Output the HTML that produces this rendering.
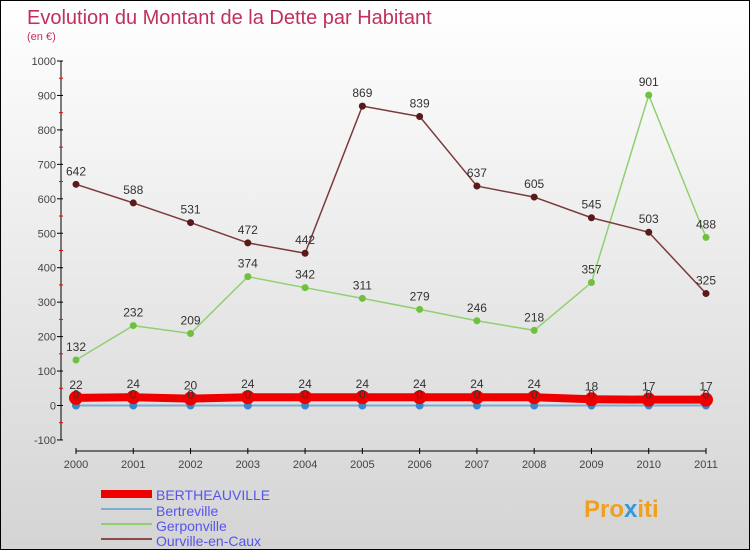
<!DOCTYPE html>
<html><head><meta charset="utf-8"><style>
body{margin:0}
#c{width:748px;height:548px;border:1px solid #000;background:linear-gradient(#fff,#d4d4d4);position:relative;font-family:"Liberation Sans",sans-serif;overflow:hidden}
</style></head><body>
<div id="c">
<svg id="s" width="748" height="548" style="position:absolute;left:0;top:0">
<text x="26" y="23" font-size="20" fill="#c0305a">Evolution du Montant de la Dette par Habitant</text>
<text x="26" y="39" font-size="11" fill="#c0305a">(en €)</text>
<g id="axes"></g><g id="series"></g>
<g>
<rect x="100" y="489" width="51" height="8" fill="#e00"/>
<text x="155" y="499" font-size="14" fill="#5555ee">BERTHEAUVILLE</text>
<line x1="100" x2="151" y1="508" y2="508" stroke="#7aaed0" stroke-width="2"/>
<text x="155" y="515" font-size="14" fill="#5555ee">Bertreville</text>
<line x1="100" x2="151" y1="523" y2="523" stroke="#90d070" stroke-width="2"/>
<text x="155" y="530" font-size="14" fill="#5555ee">Gerponville</text>
<line x1="100" x2="151" y1="538" y2="538" stroke="#8b4a4a" stroke-width="2"/>
<text x="155" y="545" font-size="14" fill="#5555ee">Ourville-en-Caux</text>
</g>
<text x="583" y="516" font-size="24" font-weight="bold" fill="#f0a020">Pro<tspan fill="#3399dd">x</tspan>iti</text>
</svg>
</div>
<script>
const years=["2000","2001","2002","2003","2004","2005","2006","2007","2008","2009","2010","2011"];
const yTicks=[-100,0,100,200,300,400,500,600,700,800,900,1000];
const bertheauville=[22,24,20,24,24,24,24,24,24,18,17,17];
const bertreville=[0,0,0,0,0,0,0,0,0,0,0,0];
const gerponville=[132,232,209,374,342,311,279,246,218,357,901,488];
const ourville=[642,588,531,472,442,869,839,637,605,545,503,325];
const NS="http://www.w3.org/2000/svg";
const xs=i=>75+i*(630/(years.length-1));
const ys=v=>404.5-v*0.3445;
function mk(tag,at,parent){const e=document.createElementNS(NS,tag);for(const k in at)e.setAttribute(k,at[k]);parent.appendChild(e);return e;}
const ax=document.getElementById('axes'),sg=document.getElementById('series');
const yl=mk('line',{x1:60,x2:60,y1:ys(1000),y2:ys(-100),stroke:'#000','stroke-width':1},ax);


yTicks.forEach(v=>{
 mk('line',{x1:56,x2:62,y1:ys(v),y2:ys(v),stroke:'#000'},ax);
 if(v<1000) mk('line',{x1:58,x2:62,y1:ys(v+50),y2:ys(v+50),stroke:'#e00'},ax);
 const t=mk('text',{x:55,y:ys(v)+4,'font-size':11,fill:'#444','text-anchor':'end'},ax);t.textContent=v;
 
 
});
const xl=mk('line',{x1:xs(0),x2:xs(11),y1:450,y2:450,stroke:'#000'},ax);


years.forEach((y,i)=>{
 mk('line',{x1:xs(i),x2:xs(i),y1:447,y2:453,stroke:'#000'},ax);
 const t=mk('text',{x:xs(i),y:467,'font-size':11,fill:'#444','text-anchor':'middle'},ax);t.textContent=y;
 
 
});
function series(data,name,col,w,dotCol,r,labels){
 const g=mk('g',{},sg);
 
 
 mk('polyline',{points:data.map((v,i)=>xs(i)+','+ys(v)).join(' '),fill:'none',stroke:col,'stroke-width':w,'stroke-linejoin':'round'},g);
 data.forEach((v,i)=>{
  const c=mk('circle',{cx:xs(i),cy:ys(v),r:r,fill:dotCol},g);
  
  
  if(labels){const t=mk('text',{x:xs(i),y:ys(v)-9,'font-size':12,fill:'#333','text-anchor':'middle'},g);t.textContent=v;}
 });
}
series(bertreville,'bertreville','#7aaed0',2,'#3a88cc',4,false);
series(bertheauville,'bertheauville','#e00',8,'#e00',7,true);
bertreville.forEach((v,i)=>{const t=mk('text',{x:xs(i),y:ys(v)-7,'font-size':12,fill:'#333','text-anchor':'middle'},sg);t.textContent=v;});
series(gerponville,'gerponville','#90d070',1.5,'#70c040',3.5,true);
series(ourville,'ourville','#7a3a3a',1.5,'#5a1a1a',3.5,true);
</script>
</body></html>
